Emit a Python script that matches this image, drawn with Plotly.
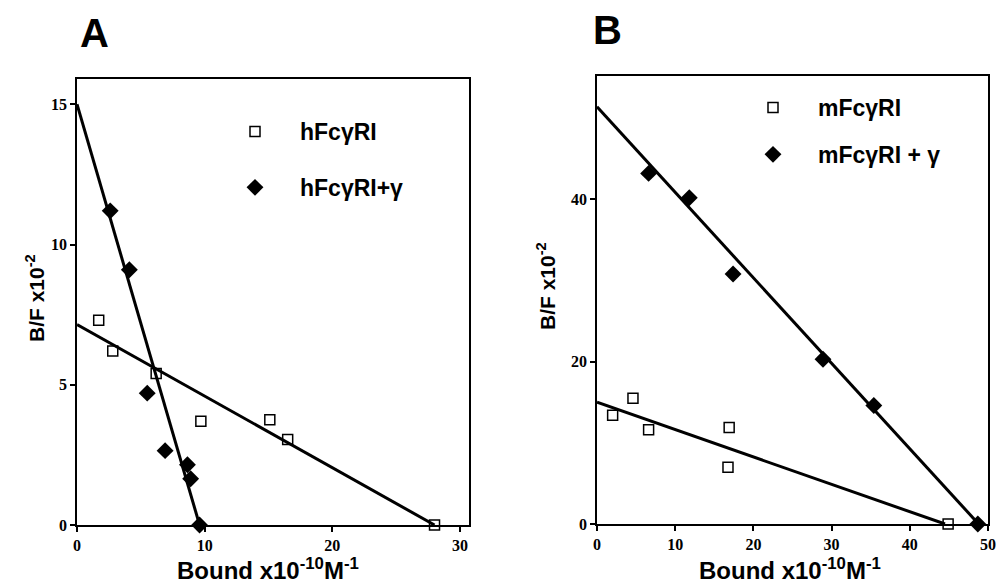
import plotly.graph_objects as go

# ---------------- data ----------------
# Panel A
a_open_x = [1.7, 2.8, 6.2, 9.7, 15.1, 16.5, 28.0]
a_open_y = [7.3, 6.2, 5.4, 3.7, 3.75, 3.05, 0.0]
a_fill_x = [2.6, 4.1, 5.5, 6.9, 8.65, 8.9, 9.6]
a_fill_y = [11.2, 9.1, 4.7, 2.65, 2.15, 1.65, 0.0]
a_fit_open_x = [0, 28.0]
a_fit_open_y = [7.15, 0]
a_fit_fill_x = [0, 9.6]
a_fit_fill_y = [15.0, 0]

# Panel B
b_open_x = [2.0, 4.6, 6.6, 16.9, 16.75, 44.9]
b_open_y = [13.4, 15.5, 11.6, 11.9, 7.0, 0.0]
b_fill_x = [6.6, 11.8, 17.4, 28.9, 35.4, 48.7]
b_fill_y = [43.2, 40.2, 30.8, 20.3, 14.6, 0.0]
b_fit_open_x = [0, 44.5]
b_fit_open_y = [15.0, 0]
b_fit_fill_x = [0, 48.8]
b_fit_fill_y = [51.4, 0]

a_xticks = [0, 10, 20, 30]
a_yticks = [0, 5, 10, 15]
b_xticks = [0, 10, 20, 30, 40, 50]
b_yticks = [0, 20, 40]

names = ["hFc\u03b3RI", "hFc\u03b3RI+\u03b3", "mFc\u03b3RI", "mFc\u03b3RI + \u03b3"]

# ---------------- figure ----------------
fig = go.Figure()
line_style = dict(color="black", width=3)
sq = dict(symbol="square-open", size=10, color="black", line=dict(color="black", width=1.5))
dm = dict(symbol="diamond", size=13, color="black")

# Panel A
fig.add_trace(go.Scatter(x=a_fit_open_x, y=a_fit_open_y, mode="lines", line=line_style,
                         showlegend=False, xaxis="x", yaxis="y"))
fig.add_trace(go.Scatter(x=a_fit_fill_x, y=a_fit_fill_y, mode="lines", line=line_style,
                         showlegend=False, xaxis="x", yaxis="y"))
fig.add_trace(go.Scatter(x=a_open_x, y=a_open_y, mode="markers", marker=sq, name=names[0],
                         legend="legend", legendgroup="a1", cliponaxis=False, xaxis="x", yaxis="y"))
fig.add_trace(go.Scatter(x=a_fill_x, y=a_fill_y, mode="markers", marker=dm, name=names[1],
                         legend="legend", legendgroup="a2", cliponaxis=False, xaxis="x", yaxis="y"))

# Panel B
fig.add_trace(go.Scatter(x=b_fit_open_x, y=b_fit_open_y, mode="lines", line=line_style,
                         showlegend=False, xaxis="x2", yaxis="y2"))
fig.add_trace(go.Scatter(x=b_fit_fill_x, y=b_fit_fill_y, mode="lines", line=line_style,
                         showlegend=False, xaxis="x2", yaxis="y2"))
fig.add_trace(go.Scatter(x=b_open_x, y=b_open_y, mode="markers", marker=sq, name=names[2],
                         legend="legend2", legendgroup="b1", cliponaxis=False, xaxis="x2", yaxis="y2"))
fig.add_trace(go.Scatter(x=b_fill_x, y=b_fill_y, mode="markers", marker=dm, name=names[3],
                         legend="legend2", legendgroup="b2", cliponaxis=False, xaxis="x2", yaxis="y2"))

W, H = 1000, 585
tickfont = dict(family="Liberation Serif", size=16, color="black", weight="bold")
ax_common = dict(showline=True, linecolor="black", mirror=True,
                 ticks="outside", ticklen=5, tickwidth=1.5, tickcolor="black",
                 showgrid=False, zeroline=False, tickfont=tickfont, automargin=False)

legfont = dict(family="Liberation Sans", size=23, color="black", weight="bold")

fig.update_layout(
    width=W, height=H,
    margin=dict(l=0, r=0, t=0, b=0, autoexpand=False),
    plot_bgcolor="white", paper_bgcolor="white",
    xaxis=dict(domain=[77 / W, 469 / W], range=[0, 30.7], tickvals=a_xticks, anchor="y",
               linewidth=2, **ax_common),
    yaxis=dict(domain=[1 - 525 / H, 1 - 79 / H], range=[0, 15.9], tickvals=a_yticks, anchor="x",
               linewidth=1.5, **ax_common),
    xaxis2=dict(domain=[597 / W, 988 / W], range=[0, 50], tickvals=b_xticks, anchor="y2",
                linewidth=2, **ax_common),
    yaxis2=dict(domain=[1 - 524 / H, 1 - 76 / H], range=[0, 55.2], tickvals=b_yticks, anchor="x2",
                linewidth=1.5, **ax_common),
    legend=dict(x=210 / W, y=1 - 110 / H, xanchor="left", yanchor="top", font=legfont,
                bgcolor="rgba(0,0,0,0)", traceorder="grouped", tracegroupgap=23, itemwidth=80),
    legend2=dict(x=728 / W, y=1 - 86 / H, xanchor="left", yanchor="top", font=legfont,
                 bgcolor="rgba(0,0,0,0)", traceorder="grouped", tracegroupgap=14, itemwidth=80),
)

xtitle_font = dict(family="Liberation Sans", size=24, color="black", weight="bold")
ytitle_font = dict(family="Liberation Sans", size=21, color="black", weight="bold")
big_font = dict(family="Liberation Sans", size=40, color="black", weight="bold")
annots = [
    dict(text="A", x=94 / W, y=1 - 33 / H, font=big_font),
    dict(text="B", x=607 / W, y=1 - 30 / H, font=big_font),
    dict(text="Bound x10<sup>-10</sup>M<sup>-1</sup>", x=268 / W, y=1 - 569 / H, font=xtitle_font),
    dict(text="Bound x10<sup>-10</sup>M<sup>-1</sup>", x=790 / W, y=1 - 569 / H, font=xtitle_font),
    dict(text="B/F x10<sup>-2</sup>", x=35 / W, y=1 - 298 / H, textangle=-90, font=ytitle_font),
    dict(text="B/F x10<sup>-2</sup>", x=546 / W, y=1 - 286 / H, textangle=-90, font=ytitle_font),
]
for a in annots:
    fig.add_annotation(xref="paper", yref="paper", showarrow=False, xanchor="center", yanchor="middle", **a)

fig.write_html("out.html", config={"displayModeBar": False},
               post_script="document.body.style.margin='0px';document.body.style.overflow='hidden';")
